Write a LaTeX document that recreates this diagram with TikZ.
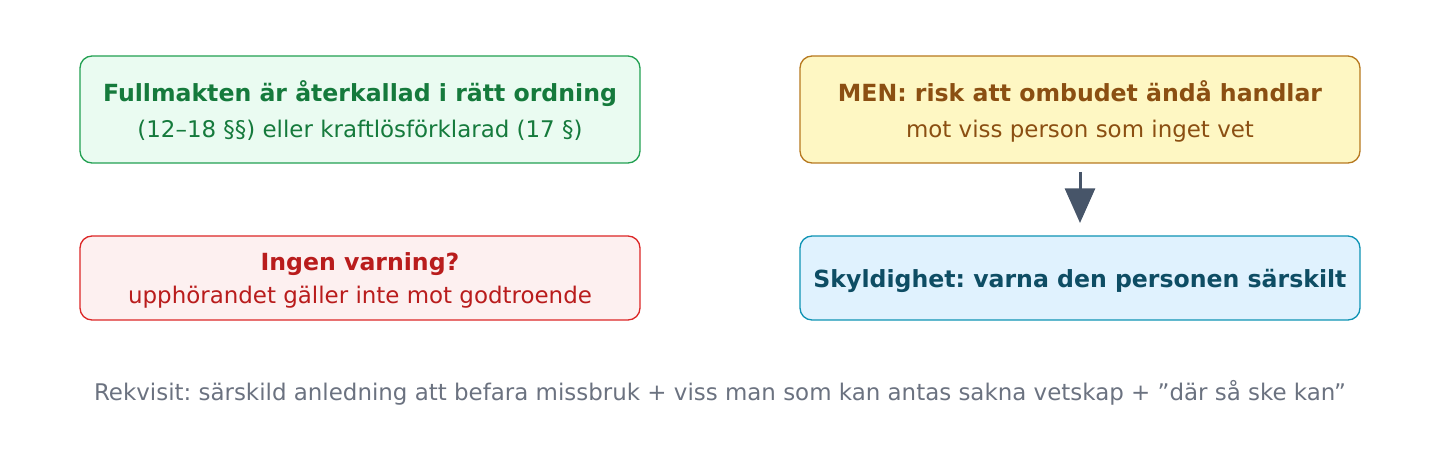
\documentclass[tikz,border=0pt]{standalone}
\usepackage{fontspec}
\setmainfont{DejaVu Sans}
\usetikzlibrary{arrows.meta, positioning}
\frenchspacing

\definecolor{okfill}{HTML}{EAFBF1}
\definecolor{okline}{HTML}{22A052}
\definecolor{oktext}{HTML}{157A3C}
\definecolor{riskfill}{HTML}{FEF7C3}
\definecolor{riskline}{HTML}{B7791F}
\definecolor{risktext}{HTML}{8B4F12}
\definecolor{warnfill}{HTML}{FDF0F0}
\definecolor{warnline}{HTML}{DC2626}
\definecolor{warntext}{HTML}{B91C1C}
\definecolor{dutyfill}{HTML}{E0F2FE}
\definecolor{dutyline}{HTML}{0E93B4}
\definecolor{dutytext}{HTML}{0E4D64}
\definecolor{arrowgray}{HTML}{475569}
\definecolor{notegray}{HTML}{6B7280}

\newcommand{\headfont}{\fontsize{17.7}{27}\selectfont\bfseries}
\newcommand{\subfont}{\fontsize{17.2}{27}\selectfont}
\tikzstyle{card} = [rectangle, rounded corners=9pt, minimum width=420pt, line width=1pt, outer sep=0pt, text centered, align=center, inner sep=0pt]
\tikzstyle{tall} = [card, minimum height=80.25pt, text depth=0pt, font=\fontsize{17.2}{27}\selectfont]
\tikzstyle{flat} = [card, minimum height=63pt, font=\fontsize{17.2}{24.5}\selectfont]
\tikzstyle{arrow} = [line width=2.25pt, -{Triangle[width=22.5pt, length=26pt]}, arrowgray]

\begin{document}
\begin{tikzpicture}[x=0.75pt, y=-0.75pt]
    \useasboundingbox (0,0) rectangle (1440,452);

    % Revoked in proper order
    \node (revoked) [tall, draw=okline, fill=okfill, text=oktext] at (360,109.5) {%
        {\headfont Fullmakten är återkallad i rätt ordning}\\
        {\subfont (12–18 §§) eller kraftlösförklarad (17 §)}%
    };

    % Risk that the agent still acts
    \node (risk) [tall, draw=riskline, fill=riskfill, text=risktext, right=120pt of revoked] {%
        {\headfont MEN: risk att ombudet ändå handlar}\\
        {\subfont mot viss person som inget vet}%
    };

    % No warning
    \node (nowarning) [flat, text depth=-5.8pt, draw=warnline, fill=warnfill, text=warntext, below=54.75pt of revoked] {%
        {\headfont Ingen varning?}\\
        {\subfont upphörandet gäller inte mot godtroende}%
    };

    % Duty to warn
    \node (duty) [flat, text depth=-1.8pt, draw=dutyline, fill=dutyfill, text=dutytext, below=54.75pt of risk] {%
        {\headfont Skyldighet: varna den personen särskilt}%
    };

    % Requirements
    \node (requisite) [text=notegray, font=\subfont] at (720,392.5) {Rekvisit: särskild anledning att befara missbruk + viss man som kan antas sakna vetskap + ”där så ske kan”};

    \draw [arrow, shorten <=6.75pt, shorten >=9.75pt] (risk.south) -- (duty.north);

\end{tikzpicture}
\end{document}
